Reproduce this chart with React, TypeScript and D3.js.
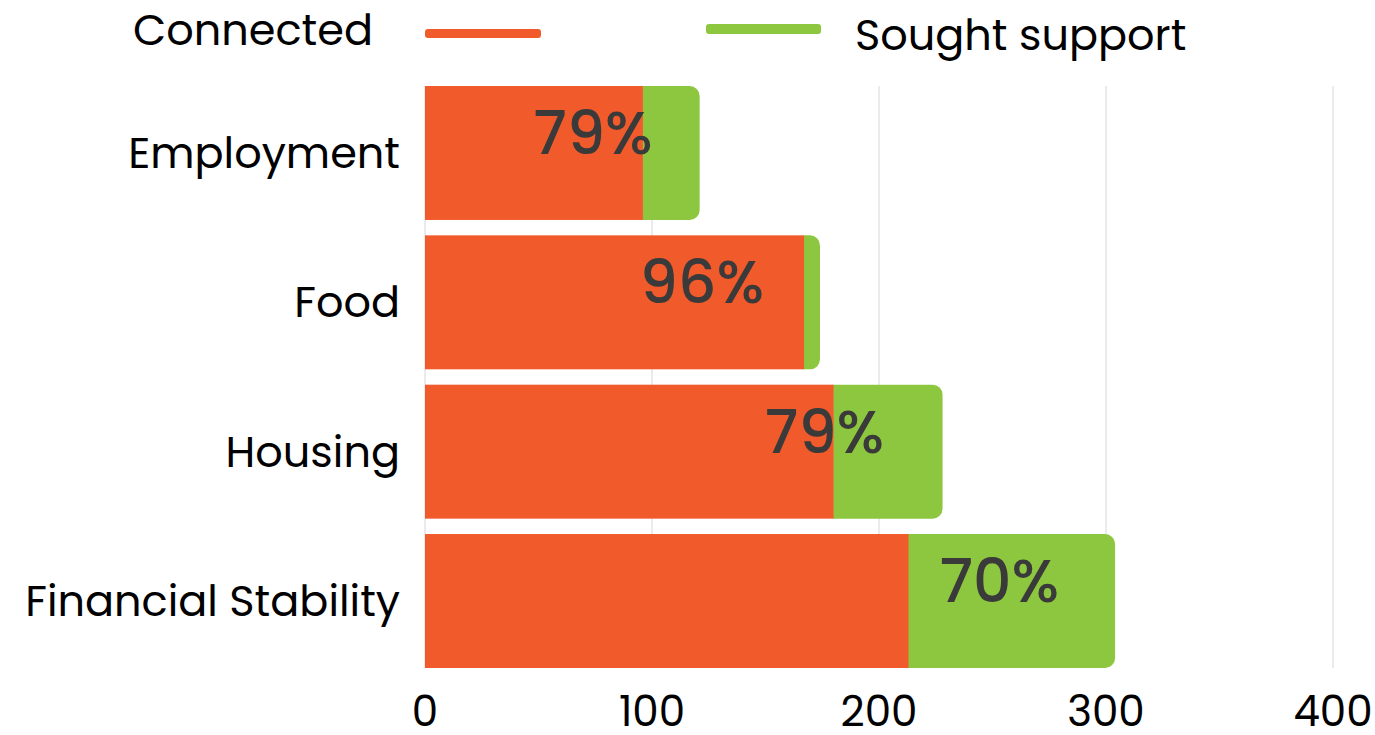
import React from 'react';
import * as d3 from 'd3';

// values
const categories = ['Employment', 'Food', 'Housing', 'Financial Stability'];
const connected = [96, 167, 180, 213];
const sought = [121, 174, 228, 304];
// where the % annotation sits, in value units
const labelAt = [74, 122, 176, 253];
const xTicks = [0, 100, 200, 300, 400];

const W = 1375;
const H = 735;
const FONT = "Poppins, 'Open Sans', sans-serif";
const ORANGE = '#F15A2B';
const GREEN = '#8DC63F';

function roundRight(x0: number, x1: number, y0: number, y1: number, r: number) {
  const rr = Math.min(r, x1 - x0, (y1 - y0) / 2);
  const p = d3.path();
  p.moveTo(x0, y0);
  p.lineTo(x1 - rr, y0);
  p.arcTo(x1, y0, x1, y0 + rr, rr);
  p.lineTo(x1, y1 - rr);
  p.arcTo(x1, y1, x1 - rr, y1, rr);
  p.lineTo(x0, y1);
  p.closePath();
  return p.toString();
}

export default function App() {
  const x = d3.scaleLinear().domain([0, 400]).range([425, 1333]);
  const y = d3.scaleBand<string>().domain(categories).range([86, 668]).paddingInner(0.103).paddingOuter(0);
  const bw = y.bandwidth();

  return (
    <svg width={W} height={H} style={{ position: 'fixed', left: 0, top: 0, background: '#fff' }} fontFamily={FONT}>
      {/* gridlines */}
      {xTicks.map((t) => (
        <line key={'g' + t} x1={x(t)} x2={x(t)} y1={86} y2={668} stroke="#d6d6d6" strokeWidth={1} />
      ))}

      {/* bars */}
      {categories.map((c, i) => {
        const y0 = y(c)!;
        return (
          <g key={c}>
            <path d={roundRight(x(connected[i]) - 0.5, x(sought[i]), y0, y0 + bw, 10)} fill={GREEN} />
            <rect x={x(0)} y={y0} width={x(connected[i]) - x(0)} height={bw} fill={ORANGE} />
            <text x={x(labelAt[i])} y={y0 + 68} textAnchor="middle" fontSize={60} fontWeight={500} fill="#3a3a3a">
              {Math.round((connected[i] / sought[i]) * 100)}%
            </text>
            <text x={400} y={y0 + bw / 2 + 15} textAnchor="end" fontSize={43} fill="#000">
              {c}
            </text>
          </g>
        );
      })}

      {/* x axis labels */}
      {xTicks.map((t) => (
        <text key={'t' + t} x={x(t)} y={726} textAnchor="middle" fontSize={42} fill="#000">
          {t}
        </text>
      ))}

      {/* legend */}
      <text x={373} y={45} textAnchor="end" fontSize={43} fill="#000">Connected</text>
      <rect x={425} y={29} width={116} height={9} rx={3} fill={ORANGE} />
      <rect x={706} y={24} width={115} height={10} rx={3} fill={GREEN} />
      <text x={855} y={50} fontSize={43} fill="#000">Sought support</text>
    </svg>
  );
}
